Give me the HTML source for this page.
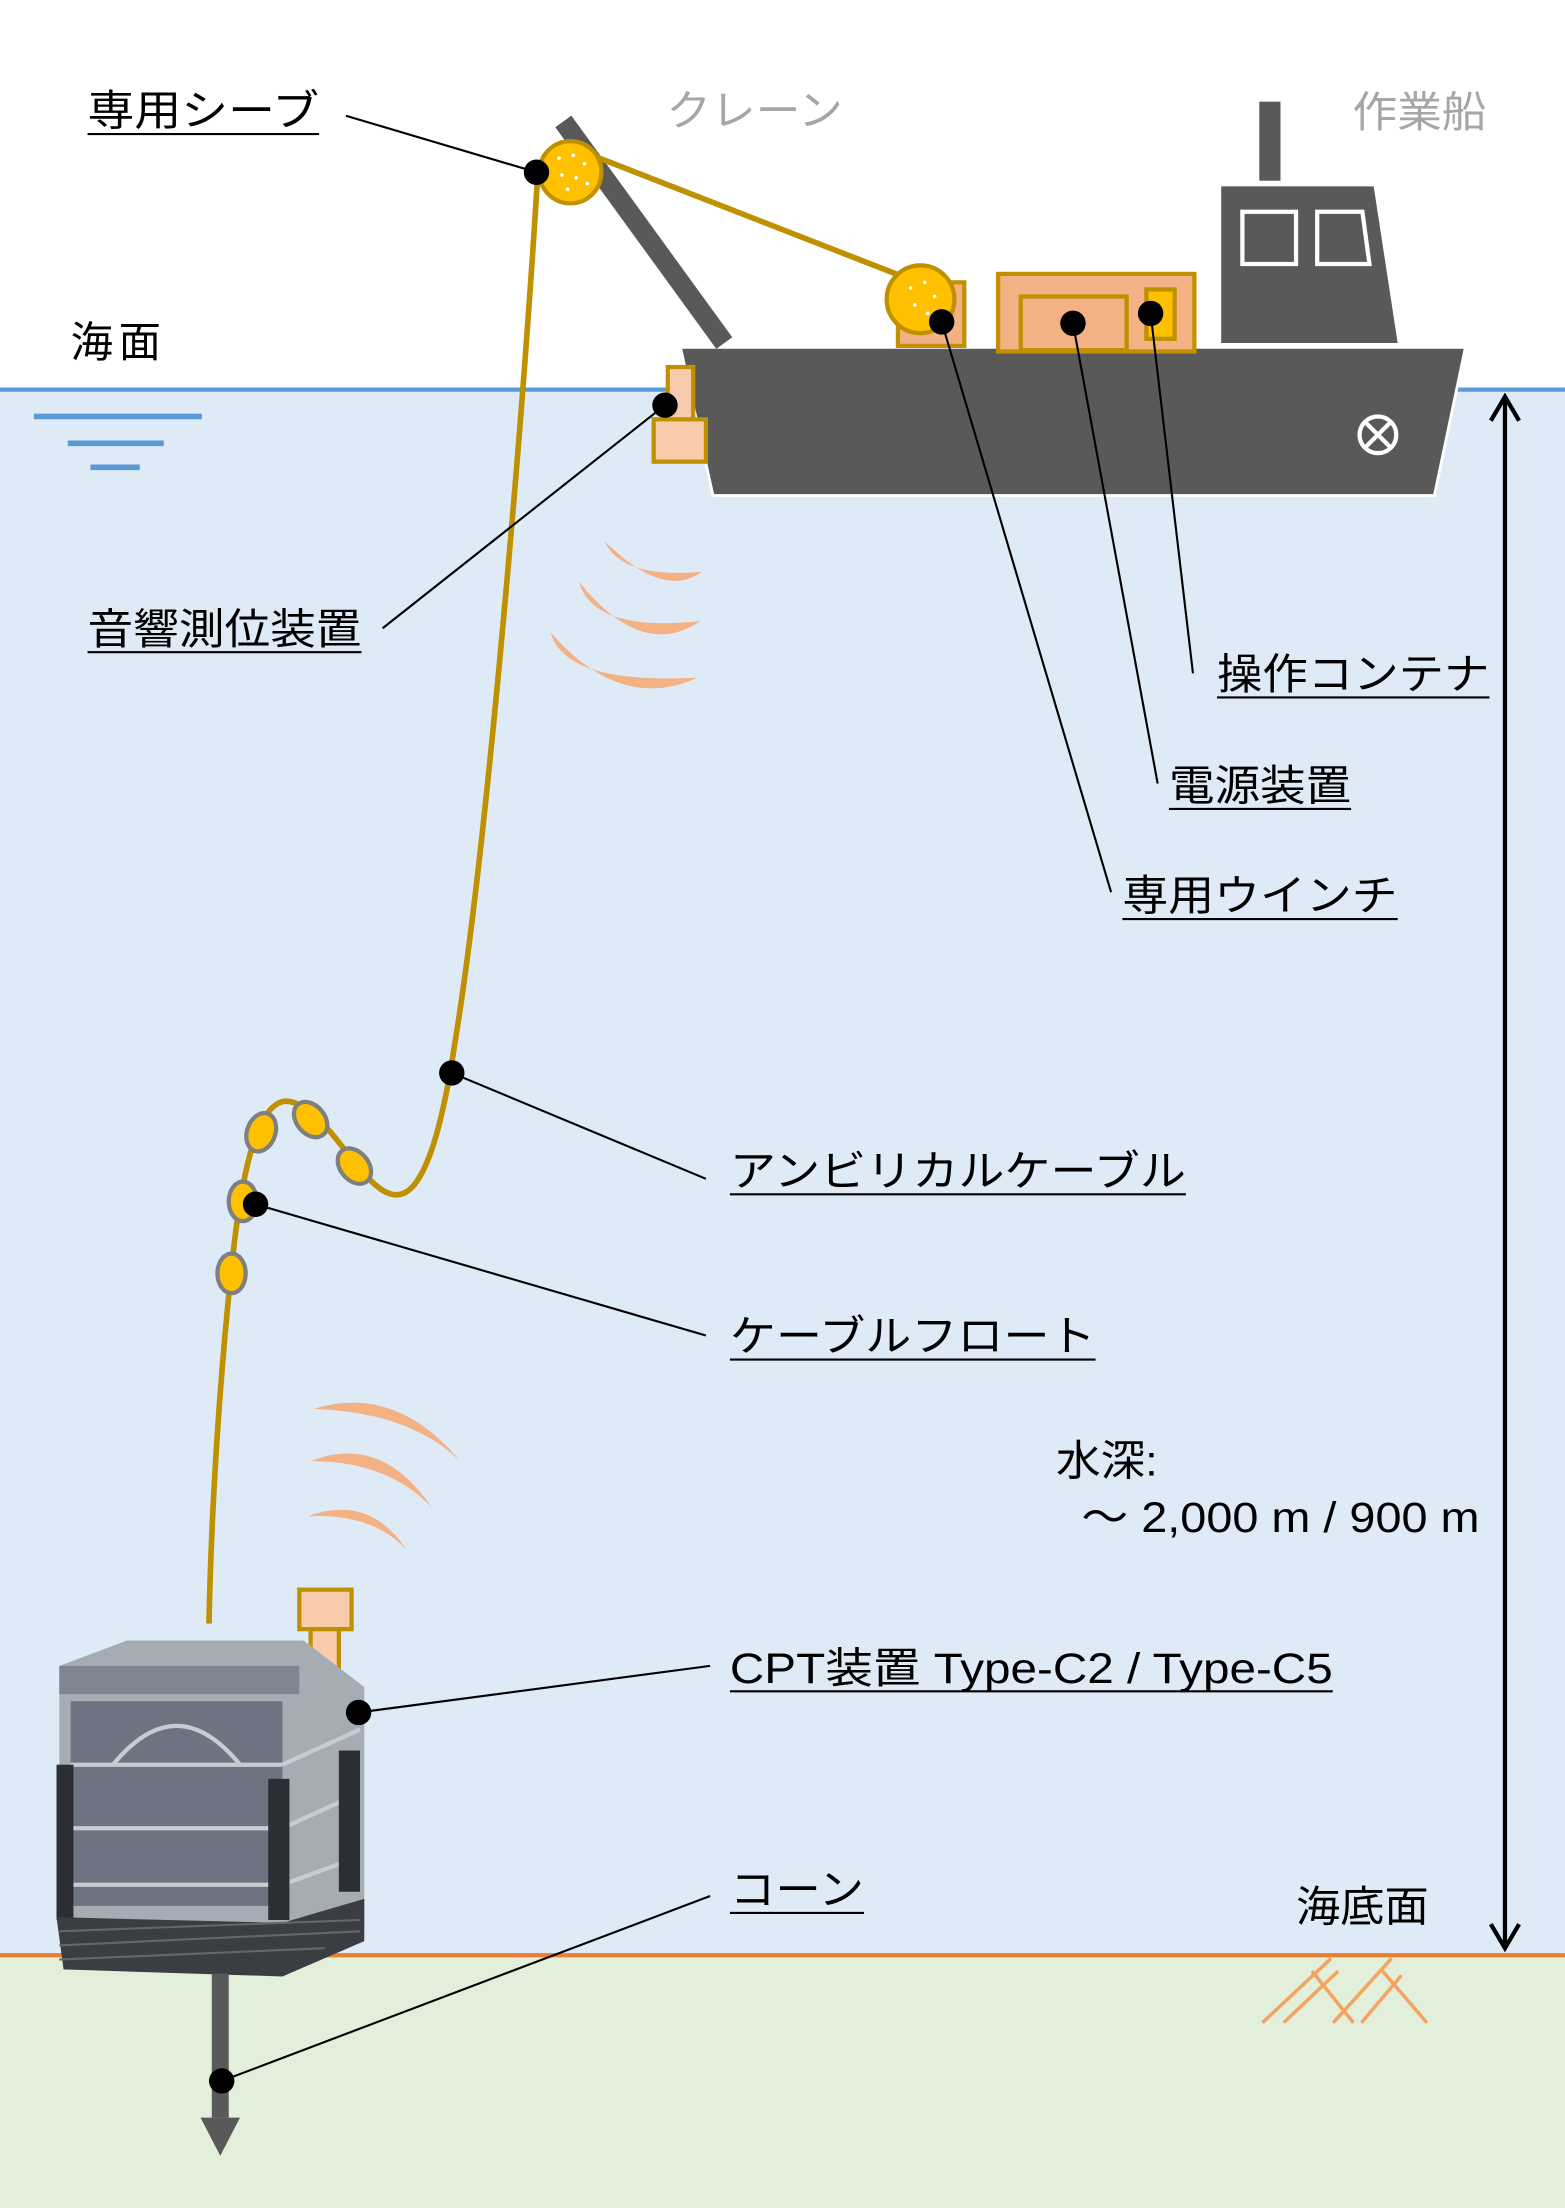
<!DOCTYPE html>
<html><head><meta charset="utf-8"><style>
html,body{margin:0;padding:0;background:#fff}
svg{display:block}
text{font-family:"Liberation Sans","Noto Sans CJK JP",sans-serif}
</style></head><body>
<svg width="1565" height="2208" viewBox="0 0 1108.5 1564" xmlns="http://www.w3.org/2000/svg">
<rect x="0" y="0" width="1108.5" height="276" fill="#fff"/>
<rect x="0" y="276" width="1108.5" height="1110" fill="#deeaf6"/>
<rect x="0" y="1386" width="1108.5" height="178" fill="#e2efda"/>
<line x1="0" y1="276" x2="1108.5" y2="276" stroke="#5b9bd5" stroke-width="3"/>
<line x1="0" y1="1385" x2="1108.5" y2="1385" stroke="#ed7d31" stroke-width="3"/>
<g stroke="#5b9bd5" stroke-width="4">
<line x1="24" y1="295" x2="143" y2="295"/><line x1="48" y1="314" x2="116" y2="314"/><line x1="64" y1="331" x2="99" y2="331"/>
</g>
<text x="50" y="253" font-size="30" fill="#000" textLength="64">海面</text>
<!-- ship -->
<rect x="892" y="72" width="15" height="56" fill="#595959"/>
<polygon points="865,132 973,132 990,243 865,243" fill="#595959"/>
<rect x="880" y="150" width="38" height="37" fill="none" stroke="#fff" stroke-width="3"/>
<polygon points="933,150 965,150 970,187 933,187" fill="none" stroke="#fff" stroke-width="3"/>
<polygon points="482,246 1038,246 1016,351 505,351" fill="#595959" stroke="#fff" stroke-width="2"/>
<circle cx="976" cy="308" r="13" fill="none" stroke="#fff" stroke-width="3"/>
<line x1="967" y1="299" x2="985" y2="317" stroke="#fff" stroke-width="3"/><line x1="985" y1="299" x2="967" y2="317" stroke="#fff" stroke-width="3"/>
<line x1="399" y1="86" x2="513" y2="243" stroke="#595959" stroke-width="14"/>
<line x1="404" y1="104" x2="650" y2="200" stroke="#bf9000" stroke-width="4"/>
<rect x="636" y="200" width="47" height="45" fill="#f4b183" stroke="#bf9000" stroke-width="3"/>
<circle cx="652" cy="212" r="24" fill="#ffc000" stroke="#bf9000" stroke-width="3"/>
<rect x="707" y="194" width="139" height="55" fill="#f4b183" stroke="#bf9000" stroke-width="3"/>
<rect x="723" y="210" width="75" height="38" fill="#f4b183" stroke="#bf9000" stroke-width="3"/>
<rect x="812" y="205" width="20" height="35" fill="#ffc000" stroke="#bf9000" stroke-width="3"/>
<circle cx="404" cy="122" r="22" fill="#ffc000" stroke="#bf9000" stroke-width="3"/>
<g fill="#fff"><circle cx="396" cy="112" r="1.3"/><circle cx="406" cy="110" r="1.3"/><circle cx="414" cy="116" r="1.3"/><circle cx="398" cy="124" r="1.3"/><circle cx="408" cy="126" r="1.3"/><circle cx="416" cy="130" r="1.3"/><circle cx="402" cy="134" r="1.3"/><circle cx="645" cy="204" r="1.3"/><circle cx="655" cy="200" r="1.3"/><circle cx="662" cy="210" r="1.3"/><circle cx="648" cy="216" r="1.3"/><circle cx="657" cy="222" r="1.3"/></g>
<rect x="473" y="260" width="18" height="40" fill="#f8cbad" stroke="#bf9000" stroke-width="3"/>
<rect x="463" y="297" width="37" height="30" fill="#f8cbad" stroke="#bf9000" stroke-width="3"/>
<!-- acoustic arcs -->
<g fill="#f4b183">
<path d="M428,383 Q440,410 497,405 Q470,425 428,383Z"/>
<path d="M410,412 Q420,448 496,440 Q455,468 410,412Z"/>
<path d="M390,448 Q400,485 494,480 Q440,505 390,448Z"/>
<path d="M222,998 Q280,980 326,1035 Q290,1000 222,998Z"/>
<path d="M220,1035 Q270,1015 306,1068 Q275,1035 220,1035Z"/>
<path d="M218,1074 Q262,1058 288,1098 Q265,1072 218,1074Z"/>
</g>
<!-- cable -->
<path d="M381,122 C370,300 345,600 322,740 C310,820 295,850 278,846 C255,842 230,780 202,780 C182,782 172,830 166,880 C158,950 150,1050 148,1150" fill="none" stroke="#bf9000" stroke-width="4"/>
<g fill="#ffc000" stroke="#7f7f7f" stroke-width="3">
<ellipse cx="185" cy="802" rx="10" ry="14" transform="rotate(20 185 802)"/>
<ellipse cx="220" cy="793" rx="10" ry="14" transform="rotate(-40 220 793)"/>
<ellipse cx="251" cy="826" rx="10" ry="14" transform="rotate(-40 251 826)"/>
<ellipse cx="172" cy="851" rx="10" ry="14"/>
<ellipse cx="164" cy="902" rx="10" ry="14"/>
</g>
<!-- CPT device -->
<rect x="212" y="1126" width="37" height="28" fill="#f8cbad" stroke="#bf9000" stroke-width="3"/>
<rect x="220" y="1154" width="20" height="38" fill="#f8cbad" stroke="#bf9000" stroke-width="3"/>
<polygon points="42,1180 90,1162 215,1162 258,1195 258,1365 200,1395 45,1395 42,1365" fill="#a6acb4"/>
<rect x="42" y="1180" width="170" height="20" fill="#7d8691"/>
<rect x="50" y="1205" width="150" height="145" fill="#6b7480"/>
<g stroke="#c8ccd2" stroke-width="3" fill="none">
<line x1="50" y1="1250" x2="200" y2="1250"/><line x1="50" y1="1295" x2="200" y2="1295"/><line x1="50" y1="1335" x2="200" y2="1335"/>
<line x1="200" y1="1250" x2="255" y2="1225"/><line x1="200" y1="1295" x2="255" y2="1270"/><line x1="200" y1="1335" x2="255" y2="1315"/>
<path d="M80,1250 Q125,1195 170,1250"/>
</g>
<rect x="40" y="1250" width="12" height="110" fill="#2b2e33"/>
<rect x="190" y="1260" width="15" height="100" fill="#2b2e33"/>
<rect x="240" y="1240" width="15" height="100" fill="#2b2e33"/>
<polygon points="40,1358 200,1362 258,1345 258,1375 200,1400 45,1395" fill="#3a3d42"/>
<g stroke="#666" stroke-width="1.5"><line x1="42" y1="1368" x2="255" y2="1360"/><line x1="42" y1="1378" x2="255" y2="1368"/><line x1="42" y1="1388" x2="230" y2="1380"/></g>
<rect x="150" y="1398" width="12" height="102" fill="#595959"/>
<polygon points="142,1500 170,1500 156,1527" fill="#595959"/>
<!-- depth arrow -->
<line x1="1066" y1="281" x2="1066" y2="1380" stroke="#000" stroke-width="3"/>
<polyline points="1056,298 1066,281 1076,298" fill="none" stroke="#000" stroke-width="3"/>
<polyline points="1056,1363 1066,1380 1076,1363" fill="none" stroke="#000" stroke-width="3"/>
<g stroke="#f4a460" stroke-width="2.5" stroke-linecap="round">
<line x1="895" y1="1432" x2="942" y2="1388"/><line x1="910" y1="1432" x2="947" y2="1397"/><line x1="930" y1="1397" x2="958" y2="1432"/>
<line x1="945" y1="1432" x2="985" y2="1388"/><line x1="965" y1="1432" x2="992" y2="1400"/><line x1="980" y1="1397" x2="1010" y2="1432"/>
</g>
<!-- leaders -->
<g stroke="#000" stroke-width="1.5">
<line x1="245" y1="82" x2="380" y2="122"/>
<line x1="271" y1="445" x2="471" y2="287"/>
<line x1="667" y1="228" x2="787" y2="632"/>
<line x1="760" y1="229" x2="820" y2="555"/>
<line x1="815" y1="222" x2="845" y2="477"/>
<line x1="320" y1="760" x2="500" y2="835"/>
<line x1="181" y1="853" x2="500" y2="946"/>
<line x1="254" y1="1213" x2="503" y2="1180"/>
<line x1="157" y1="1474" x2="503" y2="1343"/>
<line x1="62" y1="95" x2="226" y2="95"/>
<line x1="62" y1="462" x2="256" y2="462"/>
<line x1="795" y1="651" x2="990" y2="651"/>
<line x1="828" y1="573" x2="957" y2="573"/>
<line x1="862" y1="494" x2="1055" y2="494"/>
<line x1="517" y1="846" x2="840" y2="846"/>
<line x1="517" y1="963" x2="776" y2="963"/>
<line x1="517" y1="1198" x2="944" y2="1198"/>
<line x1="517" y1="1355" x2="612" y2="1355"/>
</g>
<g fill="#000">
<circle cx="380" cy="122" r="9"/><circle cx="667" cy="228" r="9"/><circle cx="760" cy="229" r="9"/><circle cx="815" cy="222" r="9"/><circle cx="471" cy="287" r="9"/><circle cx="320" cy="760" r="9"/><circle cx="181" cy="853" r="9"/><circle cx="254" cy="1213" r="9"/><circle cx="157" cy="1474" r="9"/>
</g>
<g font-size="30" fill="#000" lengthAdjust="spacingAndGlyphs">
<text x="62" y="89" textLength="164" lengthAdjust="spacingAndGlyphs">専用シーブ</text>
<text x="62" y="456" textLength="194" lengthAdjust="spacingAndGlyphs">音響測位装置</text>
<text x="795" y="645" textLength="195" lengthAdjust="spacingAndGlyphs">専用ウインチ</text>
<text x="828" y="567" textLength="129" lengthAdjust="spacingAndGlyphs">電源装置</text>
<text x="862" y="488" textLength="193" lengthAdjust="spacingAndGlyphs">操作コンテナ</text>
<text x="517" y="840" textLength="323" lengthAdjust="spacingAndGlyphs">アンビリカルケーブル</text>
<text x="517" y="957" textLength="259" lengthAdjust="spacingAndGlyphs">ケーブルフロート</text>
<text x="517" y="1192" textLength="427" lengthAdjust="spacingAndGlyphs">CPT装置 Type-C2 / Type-C5</text>
<text x="517" y="1349" textLength="95" lengthAdjust="spacingAndGlyphs">コーン</text>
<text x="748" y="1045" textLength="72" lengthAdjust="spacingAndGlyphs">水深:</text>
<text x="766" y="1085" textLength="282" lengthAdjust="spacingAndGlyphs">〜 2,000 m / 900 m</text>
<text x="918" y="1361" textLength="94" lengthAdjust="spacingAndGlyphs">海底面</text>
</g>
<g font-size="30" fill="#a6a6a6">
<text x="472" y="89" textLength="125" lengthAdjust="spacingAndGlyphs">クレーン</text>
<text x="958" y="90" textLength="95" lengthAdjust="spacingAndGlyphs">作業船</text>
</g>
</svg>
</body></html>
